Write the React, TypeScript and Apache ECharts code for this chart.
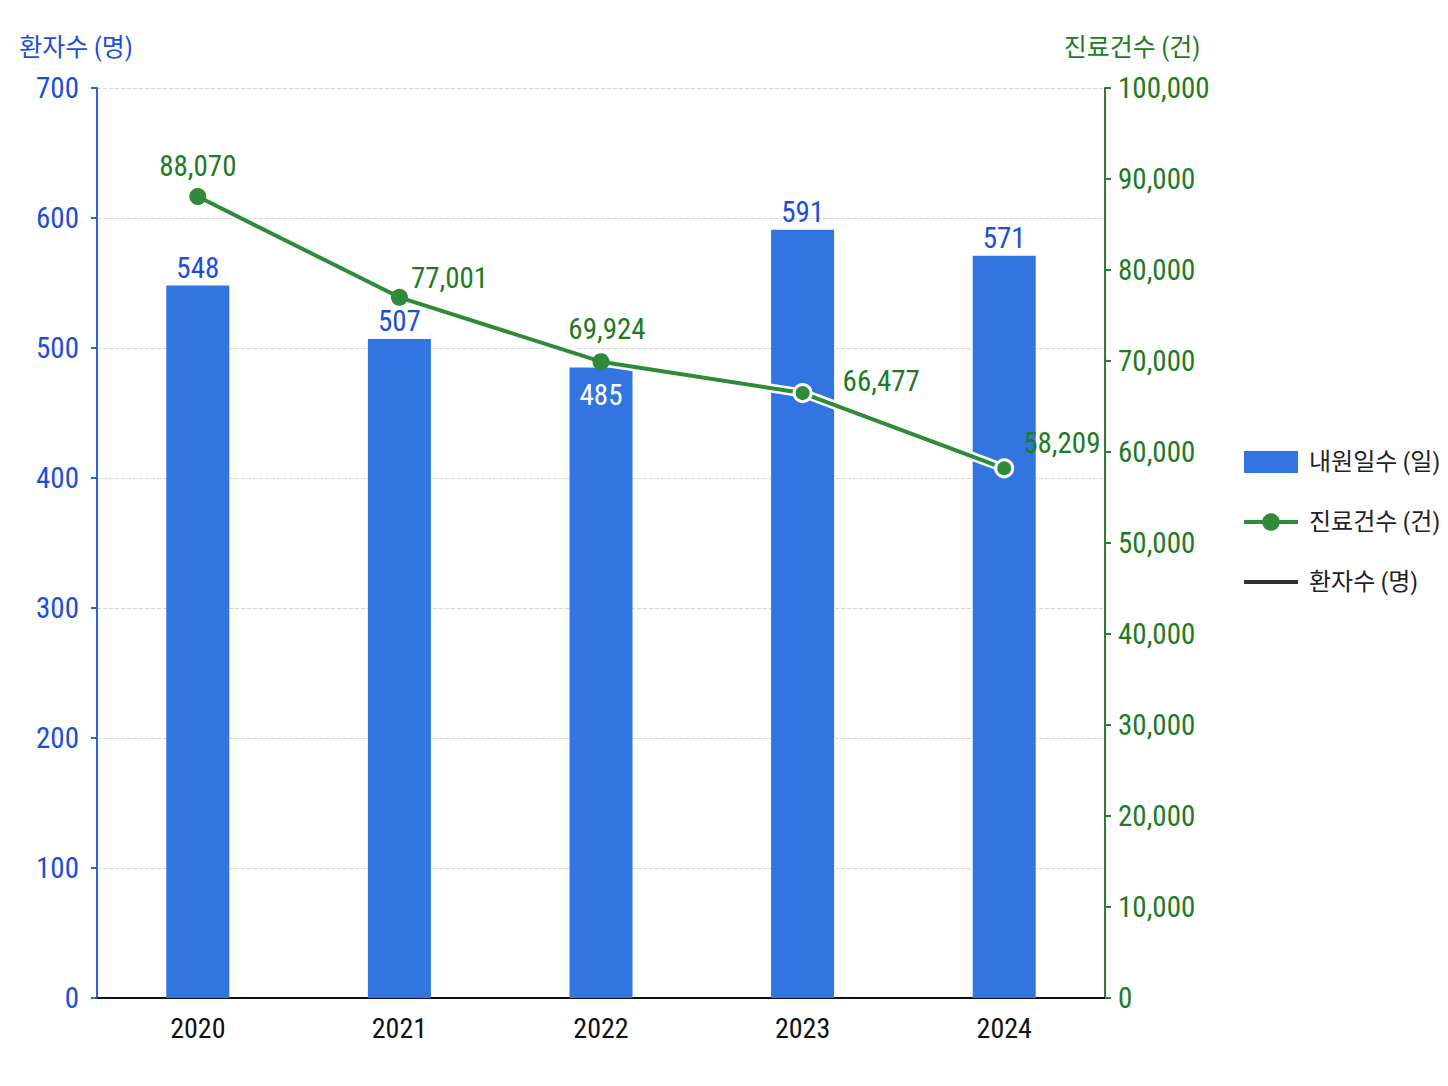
import React, { useEffect, useRef } from "react";
import * as echarts from "echarts";

const years = ["2020", "2021", "2022", "2023", "2024"];
const visitDays = [548, 507, 485, 591, 571];
const treatments = [88070, 77001, 69924, 66477, 58209];
const patients: number[] = [];

const FONT = "'Liberation Sans Narrow', 'Roboto Condensed', 'Noto Sans CJK KR', sans-serif";
const BLUE_TXT = "#1c4fd6";
const GREEN_TXT = "#1f7a24";
const BAR = "#3375e0";
const LINE = "#2f8a3a";

export default function App() {
  const ref = useRef<HTMLDivElement>(null);
  useEffect(() => {
    if (!ref.current) return;
    const chart = echarts.init(ref.current, undefined, { renderer: "svg" });
    const barLabels = visitDays.map((v, i) =>
      i === 2
        ? { value: v, label: { position: "insideTop", color: "#ffffff", distance: 13 } }
        : { value: v }
    );
    const lineLabelCfg: any[] = [
      { position: "top", distance: 8, offset: [0, 0] },
      { position: "right", distance: 3, offset: [0, -19] },
      { position: "top", distance: 10, offset: [6, 0] },
      { position: "right", distance: 30, offset: [0, -12] },
      { position: "right", distance: 9, offset: [0, -25] },
    ];
    const lineData = treatments.map((v, i) => ({
      value: v,
      label: lineLabelCfg[i],
      itemStyle: i >= 3 ? { borderColor: "#ffffff", borderWidth: 3 } : { borderWidth: 0 },
    }));
    chart.setOption({
      animation: false,
      backgroundColor: "#ffffff",
      textStyle: { fontFamily: FONT },
      grid: { left: 97, right: 343, top: 88, bottom: 88, containLabel: false },
      legend: {
        orient: "vertical",
        left: 1237,
        top: 445,
        itemWidth: 54,
        itemHeight: 22,
        itemGap: 36,
        lineStyle: { width: 4 },
        textStyle: { fontSize: 24, color: "#222", fontFamily: FONT, padding: [0, 0, 0, 6] },
        data: [
          { name: "내원일수 (일)", icon: "rect" },
          { name: "진료건수 (건)" },
          { name: "환자수 (명)", itemStyle: { opacity: 0 } },
        ],
      },
      xAxis: {
        type: "category",
        data: years,
        axisLine: { lineStyle: { color: "#111", width: 2 } },
        axisTick: { show: false },
        axisLabel: { fontSize: 28, color: "#111", margin: 16, fontFamily: FONT },
      },
      yAxis: [
        {
          type: "value",
          min: 0,
          max: 700,
          interval: 100,
          name: "환자수 (명)",
          nameLocation: "end",
          nameGap: 28,
          nameTextStyle: { fontSize: 25, color: BLUE_TXT, align: "center", padding: [0, 42, 0, 0], fontFamily: FONT },
          axisLine: { show: true, lineStyle: { color: "#2e62dc", width: 2 } },
          axisTick: { show: true, length: 6, lineStyle: { color: "#2e62dc", width: 2 } },
          axisLabel: { fontSize: 29, color: BLUE_TXT, margin: 18, fontFamily: FONT },
          splitLine: { show: true, lineStyle: { color: "#d4d4d4", type: "dashed", width: 1 } },
        },
        {
          type: "value",
          min: 0,
          max: 100000,
          interval: 10000,
          name: "진료건수 (건)",
          nameLocation: "end",
          nameGap: 28,
          nameTextStyle: { fontSize: 25, color: GREEN_TXT, align: "center", padding: [0, 0, 0, 54], fontFamily: FONT },
          axisLine: { show: true, lineStyle: { color: "#2e7d32", width: 2 } },
          axisTick: { show: true, length: 6, lineStyle: { color: "#2e7d32", width: 2 } },
          axisLabel: {
            fontSize: 29,
            color: GREEN_TXT,
            margin: 13,
            fontFamily: FONT,
            formatter: (v: number) => v.toLocaleString("en-US"),
          },
          splitLine: { show: false },
        },
      ],
      series: [
        {
          name: "내원일수 (일)",
          type: "bar",
          yAxisIndex: 0,
          barWidth: 63,
          data: barLabels,
          itemStyle: { color: BAR },
          label: { show: true, position: "top", distance: 3, fontSize: 29, color: BLUE_TXT, fontFamily: FONT },
        },
        {
          name: "halo",
          type: "line",
          yAxisIndex: 1,
          data: treatments,
          symbol: "none",
          silent: true,
          lineStyle: { color: "#ffffff", width: 9 },
          itemStyle: { color: "#ffffff" },
          z: 4,
          tooltip: { show: false },
        },
        {
          name: "진료건수 (건)",
          type: "line",
          yAxisIndex: 1,
          data: lineData,
          symbol: "circle",
          symbolSize: 17,
          itemStyle: { color: LINE },
          lineStyle: { color: LINE, width: 4 },
          label: {
            show: true,
            fontSize: 29,
            color: GREEN_TXT,
            fontFamily: FONT,
            formatter: (p: any) => Number(p.value).toLocaleString("en-US"),
          },
          z: 5,
        },
        {
          name: "환자수 (명)",
          type: "line",
          yAxisIndex: 0,
          data: patients,
          symbol: "none",
          itemStyle: { color: "#333333" },
          lineStyle: { color: "#333333", width: 4 },
        },
      ],
    });
    return () => chart.dispose();
  }, []);
  return (
    <div
      ref={ref}
      style={{ position: "absolute", left: 0, top: 0, width: 1448, height: 1086 }}
    />
  );
}
